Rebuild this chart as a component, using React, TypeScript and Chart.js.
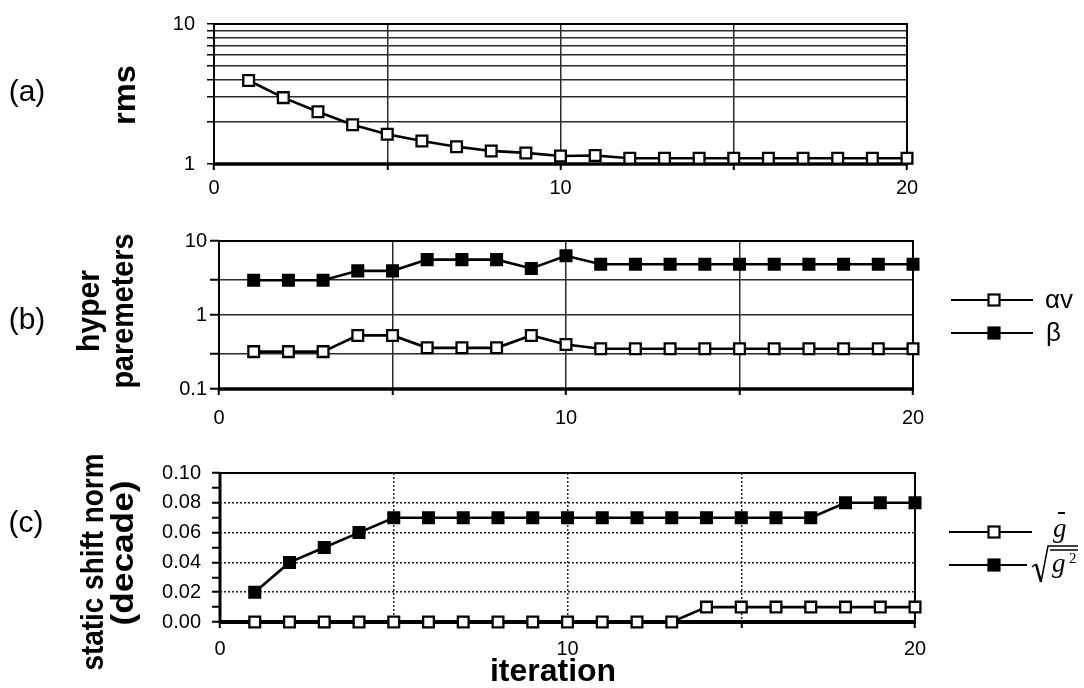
import React, { useEffect, useRef } from "react";
import { Chart, registerables } from "chart.js";

Chart.register(...registerables);

// ---------------- data ----------------
const iterations = [1, 2, 3, 4, 5, 6, 7, 8, 9, 10, 11, 12, 13, 14, 15, 16, 17, 18, 19, 20];
const rmsValues = [3.95, 2.98, 2.36, 1.91, 1.63, 1.46, 1.33, 1.24, 1.2, 1.14, 1.15, 1.1, 1.1, 1.1, 1.1, 1.1, 1.1, 1.1, 1.1, 1.1];
const alphaVValues = [0.32, 0.32, 0.32, 0.53, 0.53, 0.36, 0.36, 0.36, 0.53, 0.4, 0.35, 0.35, 0.35, 0.35, 0.35, 0.35, 0.35, 0.35, 0.35, 0.35];
const betaValues = [2.95, 2.95, 2.95, 3.95, 3.95, 5.6, 5.6, 5.6, 4.25, 6.3, 4.85, 4.85, 4.85, 4.85, 4.85, 4.85, 4.85, 4.85, 4.85, 4.85];
const gMeanValues = [0, 0, 0, 0, 0, 0, 0, 0, 0, 0, 0, 0, 0, 0.01, 0.01, 0.01, 0.01, 0.01, 0.01, 0.01];
const gRmsValues = [0.02, 0.04, 0.05, 0.06, 0.07, 0.07, 0.07, 0.07, 0.07, 0.07, 0.07, 0.07, 0.07, 0.07, 0.07, 0.07, 0.07, 0.08, 0.08, 0.08];

const xGridValues = [0, 5, 10, 15, 20];
const xTickLabels = [0, 10, 20];
const rmsGridValues = [1, 2, 3, 4, 5, 6, 7, 8, 9, 10];
const rmsTickLabels = [1, 10];
const hyperGridValues = [0.1, 0.3, 1, 3, 10];
const hyperTickLabels = [0.1, 1, 10];
const shiftGridValues = [0, 0.01, 0.02, 0.03, 0.04, 0.05, 0.06, 0.07, 0.08, 0.09, 0.1];
const shiftTickLabels = ["0.00", "0.02", "0.04", "0.06", "0.08", "0.10"];

// ---------------- layout ----------------
const W = 1084;
const H = 688;
const SANS = '"Liberation Sans", Arial, Helvetica, sans-serif';
const SERIF = '"Liberation Serif", "Times New Roman", serif';
const TICK_FONT = { family: SANS, size: 20 };

type Panel = { left: number; right: number; plotTop: number; plotBottom: number };
const panelA: Panel = { left: 214, right: 907, plotTop: 16, plotBottom: 164 };
const panelB: Panel = { left: 219, right: 913, plotTop: 241, plotBottom: 389 };
const panelC: Panel = { left: 220, right: 915, plotTop: 473, plotBottom: 622 };

function series(values: number[], filled: boolean) {
  return {
    data: iterations.map((x, i) => ({ x, y: values[i] })),
    borderColor: "#000",
    borderWidth: 2.6,
    pointStyle: "rect",
    pointRadius: 7.6,
    pointBorderWidth: 2.3,
    pointBackgroundColor: filled ? "#000" : "#fff",
    pointBorderColor: "#000",
    tension: 0,
    clip: false as any,
    fill: false,
  };
}

function xAxis(p: Panel, pad: number, dash: number[]) {
  return {
    type: "linear",
    min: 0,
    max: 20,
    afterFit: (s: any) => {
      s.height = H - p.plotBottom;
    },
    afterBuildTicks: (s: any) => {
      s.ticks = xGridValues.map((v) => ({ value: v }));
    },
    ticks: {
      autoSkip: false,
      maxRotation: 0,
      minRotation: 0,
      padding: pad,
      color: "#000",
      font: TICK_FONT,
      callback: (v: number) => (xTickLabels.includes(v) ? String(v) : ""),
    },
    grid: {
      color: (c: any) => (c.tick && (c.tick.value === 0 || c.tick.value === 20) ? "rgba(0,0,0,0)" : "#2a2a2a"),
      lineWidth: 1.5,
      tickLength: 6,
      tickColor: "#000",
      tickWidth: 2,
    },
    border: { display: false, dash },
  };
}

const framePlugin = {
  id: "frame",
  beforeDatasetsDraw(chart: any, _args: any, opts: any) {
    const { ctx, chartArea: a } = chart;
    ctx.save();
    ctx.strokeStyle = "#000";
    ctx.lineWidth = 2;
    ctx.beginPath();
    ctx.moveTo(a.left, a.bottom);
    ctx.lineTo(a.left, a.top);
    ctx.lineTo(a.right, a.top);
    ctx.lineTo(a.right, a.bottom);
    ctx.stroke();
    ctx.lineWidth = opts.leftWidth || 2;
    ctx.beginPath();
    ctx.moveTo(a.left, a.top - 1);
    ctx.lineTo(a.left, a.bottom + 1);
    ctx.stroke();
    ctx.lineWidth = opts.bottomWidth || 3;
    ctx.beginPath();
    ctx.moveTo(a.left - 1, a.bottom);
    ctx.lineTo(a.right + 1, a.bottom);
    ctx.stroke();
    ctx.restore();
  },
};

function rotatedText(ctx: CanvasRenderingContext2D, text: string, baselineX: number, centerY: number, font: string, length: number) {
  ctx.save();
  ctx.font = font;
  const w = ctx.measureText(text).width;
  ctx.translate(baselineX, centerY);
  ctx.rotate(-Math.PI / 2);
  ctx.scale(length / w, 1);
  ctx.textAlign = "center";
  ctx.textBaseline = "alphabetic";
  ctx.fillStyle = "#000";
  ctx.fillText(text, 0, 0);
  ctx.restore();
}

function plainText(ctx: CanvasRenderingContext2D, text: string, x: number, y: number, font: string, align: CanvasTextAlign, baseline: CanvasTextBaseline) {
  ctx.save();
  ctx.font = font;
  ctx.textAlign = align;
  ctx.textBaseline = baseline;
  ctx.fillStyle = "#000";
  ctx.fillText(text, x, y);
  ctx.restore();
}

function legendEntry(ctx: CanvasRenderingContext2D, x1: number, x2: number, y: number, mx: number, filled: boolean) {
  ctx.save();
  ctx.strokeStyle = "#000";
  ctx.lineWidth = 2;
  ctx.beginPath();
  ctx.moveTo(x1, y);
  ctx.lineTo(x2, y);
  ctx.stroke();
  const s = 11;
  ctx.fillStyle = filled ? "#000" : "#fff";
  ctx.fillRect(mx - s / 2, y - s / 2, s, s);
  ctx.lineWidth = 2.2;
  ctx.strokeRect(mx - s / 2, y - s / 2, s, s);
  ctx.restore();
}

const TITLE_FONT = `bold 32px ${SANS}`;
const LETTER_FONT = `30px ${SANS}`;

function decorations(draw: (ctx: CanvasRenderingContext2D) => void) {
  return {
    id: "deco",
    afterDraw(chart: any) {
      const ctx = chart.ctx as CanvasRenderingContext2D;
      ctx.save();
      draw(ctx);
      ctx.restore();
    },
  };
}

function baseOptions(p: Panel) {
  return {
    responsive: false,
    animation: false as const,
    events: [] as any[],
    devicePixelRatio: 1,
    layout: { padding: { left: 0, right: W - p.right, top: p.plotTop, bottom: 0 } },
  };
}

function buildA(canvas: HTMLCanvasElement) {
  const p = panelA;
  return new Chart(canvas, {
    type: "line",
    data: { datasets: [series(rmsValues, false) as any] },
    options: {
      ...baseOptions(p),
      plugins: { legend: { display: false }, tooltip: { enabled: false }, frame: { bottomWidth: 3.5, leftWidth: 2 } } as any,
      scales: {
        x: xAxis(p, 6, []) as any,
        y: {
          type: "logarithmic",
          min: 1,
          max: 10,
          afterFit: (s: any) => {
            s.width = p.left;
          },
          afterBuildTicks: (s: any) => {
            s.ticks = rmsGridValues.map((v) => ({ value: v }));
          },
          ticks: {
            autoSkip: false,
            padding: 12,
            color: "#000",
            font: TICK_FONT,
            callback: (v: any) => (rmsTickLabels.includes(Number(v)) ? String(v) : ""),
          },
          grid: {
            color: (c: any) => (c.tick && (c.tick.value === 1 || c.tick.value === 10) ? "rgba(0,0,0,0)" : "#2a2a2a"),
            lineWidth: 1.5,
            tickLength: 7,
            tickColor: "#000",
            tickWidth: 1.5,
          },
          border: { display: false },
        } as any,
      },
    },
    plugins: [
      framePlugin,
      decorations((ctx) => {
        plainText(ctx, "(a)", 27, 93, LETTER_FONT, "center", "middle");
        rotatedText(ctx, "rms", 135, 95, TITLE_FONT, 60);
      }),
    ],
  });
}

function buildB(canvas: HTMLCanvasElement) {
  const p = panelB;
  return new Chart(canvas, {
    type: "line",
    data: { datasets: [series(alphaVValues, false) as any, series(betaValues, true) as any] },
    options: {
      ...baseOptions(p),
      plugins: { legend: { display: false }, tooltip: { enabled: false }, frame: { bottomWidth: 3.5, leftWidth: 2 } } as any,
      scales: {
        x: xAxis(p, 11, []) as any,
        y: {
          type: "logarithmic",
          min: 0.1,
          max: 10,
          afterFit: (s: any) => {
            s.width = p.left;
          },
          afterBuildTicks: (s: any) => {
            s.ticks = hyperGridValues.map((v) => ({ value: v }));
          },
          ticks: {
            autoSkip: false,
            padding: 3,
            color: "#000",
            font: TICK_FONT,
            callback: (v: any) => (hyperTickLabels.includes(Number(v)) ? String(v) : ""),
          },
          grid: {
            color: (c: any) => (c.tick && (c.tick.value === 0.1 || c.tick.value === 10) ? "rgba(0,0,0,0)" : "#2a2a2a"),
            lineWidth: 1.5,
            tickLength: 9,
            tickColor: "#000",
            tickWidth: 2,
          },
          border: { display: false },
        } as any,
      },
    },
    plugins: [
      framePlugin,
      decorations((ctx) => {
        plainText(ctx, "(b)", 27, 321, LETTER_FONT, "center", "middle");
        rotatedText(ctx, "hyper", 99, 311, TITLE_FONT, 82);
        rotatedText(ctx, "paremeters", 133, 311, TITLE_FONT, 155);
        legendEntry(ctx, 951, 1033, 300, 994, false);
        legendEntry(ctx, 951, 1033, 333, 994, true);
        plainText(ctx, "\u03b1v", 1045, 301, `26px ${SANS}`, "left", "middle");
        plainText(ctx, "\u03b2", 1046, 334, `26px ${SANS}`, "left", "middle");
      }),
    ],
  });
}

function buildC(canvas: HTMLCanvasElement) {
  const p = panelC;
  return new Chart(canvas, {
    type: "line",
    data: { datasets: [series(gMeanValues, false) as any, series(gRmsValues, true) as any] },
    options: {
      ...baseOptions(p),
      plugins: { legend: { display: false }, tooltip: { enabled: false }, frame: { bottomWidth: 4, leftWidth: 3 } } as any,
      scales: {
        x: xAxis(p, 9, [2, 2]) as any,
        y: {
          type: "linear",
          min: 0,
          max: 0.1,
          afterFit: (s: any) => {
            s.width = p.left;
          },
          afterBuildTicks: (s: any) => {
            s.ticks = shiftGridValues.map((v) => ({ value: v }));
          },
          ticks: {
            autoSkip: false,
            padding: 11,
            color: "#000",
            font: TICK_FONT,
            callback: (v: any) => {
              const s = Number(v).toFixed(2);
              return shiftTickLabels.includes(s) ? s : "";
            },
          },
          grid: {
            color: (c: any) => {
              if (!c.tick) return "rgba(0,0,0,0)";
              const s = Number(c.tick.value).toFixed(2);
              return shiftTickLabels.includes(s) && s !== "0.00" && s !== "0.10" ? "#1a1a1a" : "rgba(0,0,0,0)";
            },
            lineWidth: 1.5,
            tickLength: 8,
            tickColor: "#000",
            tickWidth: 2,
          },
          border: { display: false, dash: [2, 2] },
        } as any,
      },
    },
    plugins: [
      framePlugin,
      decorations((ctx) => {
        plainText(ctx, "(c)", 26, 524, LETTER_FONT, "center", "middle");
        rotatedText(ctx, "static shift norm", 103, 562, TITLE_FONT, 217);
        rotatedText(ctx, "(decade)", 133, 553, TITLE_FONT, 145);
        plainText(ctx, "iteration", 553, 681, TITLE_FONT, "center", "alphabetic");
        legendEntry(ctx, 949, 1032, 532, 994, false);
        legendEntry(ctx, 949, 1027, 565, 994, true);
        // g-bar
        plainText(ctx, "g", 1053, 537, `italic 27px ${SERIF}`, "left", "alphabetic");
        ctx.save();
        ctx.strokeStyle = "#000";
        ctx.lineWidth = 2;
        ctx.beginPath();
        ctx.moveTo(1058, 513);
        ctx.lineTo(1065, 513);
        ctx.stroke();
        // square root of mean g^2
        ctx.lineWidth = 1.5;
        ctx.beginPath();
        ctx.moveTo(1032, 567);
        ctx.lineTo(1036, 564);
        ctx.stroke();
        ctx.lineWidth = 2.5;
        ctx.beginPath();
        ctx.moveTo(1036, 564);
        ctx.lineTo(1041, 582);
        ctx.stroke();
        ctx.lineWidth = 1.5;
        ctx.beginPath();
        ctx.moveTo(1041, 582);
        ctx.lineTo(1048, 546);
        ctx.lineTo(1078, 546);
        ctx.stroke();
        ctx.beginPath();
        ctx.moveTo(1050, 550);
        ctx.lineTo(1078, 550);
        ctx.stroke();
        ctx.restore();
        plainText(ctx, "g", 1052, 572, `italic 27px ${SERIF}`, "left", "alphabetic");
        plainText(ctx, "2", 1069, 563, `15px ${SERIF}`, "left", "alphabetic");
      }),
    ],
  });
}

export default function App() {
  const refA = useRef<HTMLCanvasElement>(null);
  const refB = useRef<HTMLCanvasElement>(null);
  const refC = useRef<HTMLCanvasElement>(null);

  useEffect(() => {
    Chart.defaults.color = "#000";
    const charts = [buildA(refA.current!), buildB(refB.current!), buildC(refC.current!)];
    return () => charts.forEach((c) => c.destroy());
  }, []);

  const canvasStyle: React.CSSProperties = {
    position: "absolute",
    left: 0,
    top: 0,
    width: W,
    height: H,
    display: "block",
  };

  return (
    <div style={{ position: "fixed", left: 0, top: 0, width: W, height: H, background: "#fff", overflow: "hidden" }}>
      <canvas ref={refA} width={W} height={H} style={canvasStyle} />
      <canvas ref={refB} width={W} height={H} style={canvasStyle} />
      <canvas ref={refC} width={W} height={H} style={canvasStyle} />
    </div>
  );
}
